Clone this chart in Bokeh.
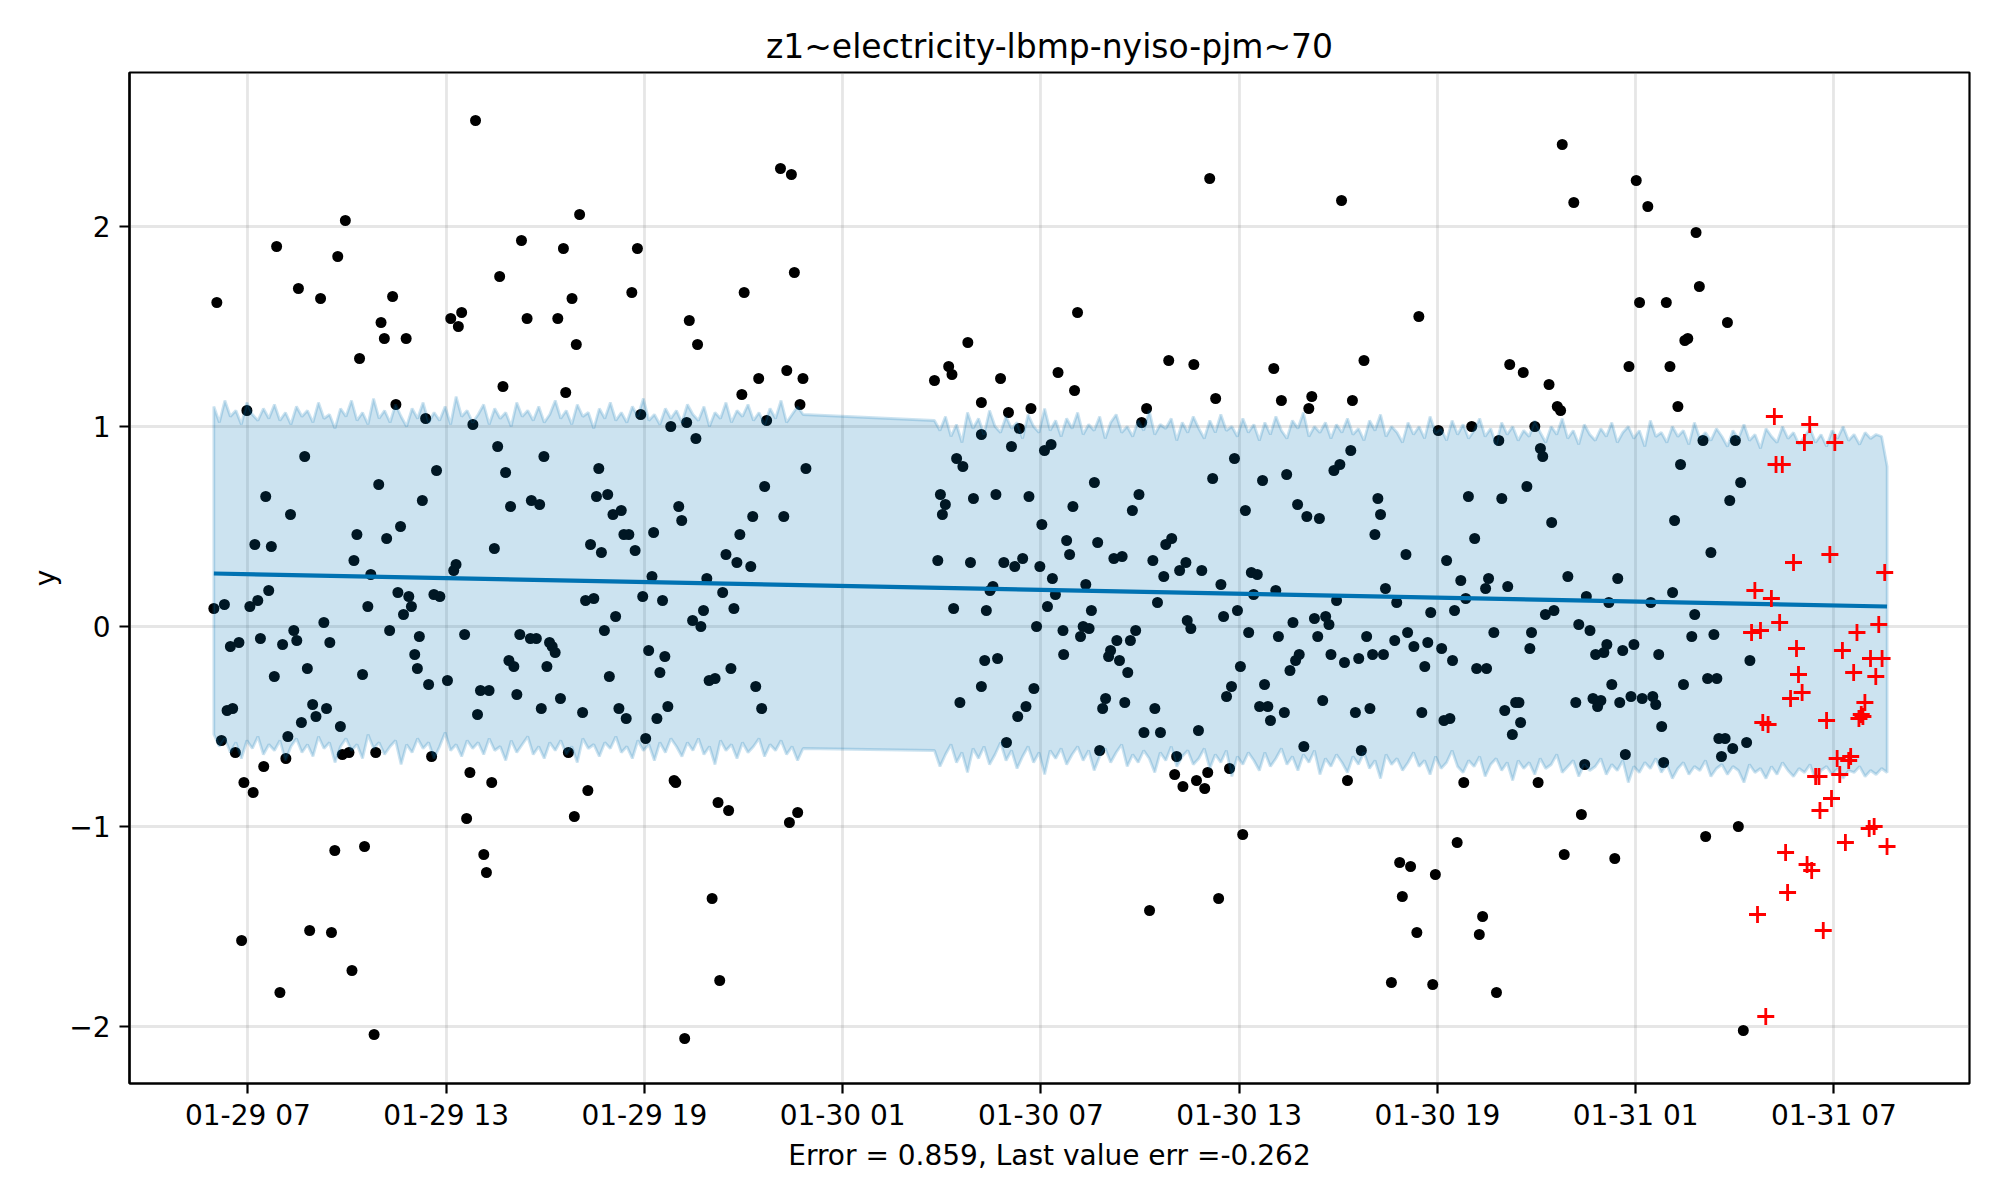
import numpy as np
from bokeh.plotting import figure
from bokeh.models import FixedTicker
from bokeh.embed import file_html
from bokeh.resources import INLINE

# x values are hours since 01-29 00:00

# observed values above the band
obs_high = [
    (6.06, 1.62), (13.89, 2.53), (9.95, 2.03), (7.87, 1.90), (9.72, 1.85), (8.53, 1.69), (9.20, 1.64), (10.38, 1.34),
    (11.03, 1.52), (11.13, 1.44), (11.38, 1.65), (11.79, 1.44), (13.14, 1.54), (13.47, 1.57), (13.37, 1.50), (14.62, 1.75),
    (15.28, 1.93), (15.45, 1.54), (16.38, 1.54), (16.55, 1.89), (16.81, 1.64), (17.04, 2.06), (16.94, 1.41), (18.62, 1.67),
    (18.79, 1.89), (20.36, 1.53), (20.61, 1.41), (22.02, 1.67), (23.12, 2.29), (23.45, 2.26), (23.54, 1.77), (28.79, 1.42),
    (36.11, 2.24), (40.10, 2.13), (46.78, 2.41), (47.13, 2.12), (49.02, 2.23), (49.37, 2.10), (50.83, 1.97), (50.93, 1.70),
    (49.12, 1.62), (49.93, 1.62), (51.78, 1.52), (50.58, 1.44), (50.49, 1.43), (32.11, 1.57), (42.44, 1.55), (34.87, 1.33),
    (40.78, 1.33),
]

# observed values below the band
obs_low = [
    (6.81, -1.57), (7.97, -1.83), (8.87, -1.52), (9.53, -1.53), (9.63, -1.12), (10.15, -1.72), (10.53, -1.10), (10.82, -2.04),
    (7.16, -0.83), (13.62, -0.96), (14.14, -1.14), (14.22, -1.23), (16.88, -0.95), (17.29, -0.82), (20.22, -2.06), (21.05, -1.36),
    (21.28, -1.77), (21.23, -0.88), (21.55, -0.92), (23.39, -0.98), (23.64, -0.93), (34.29, -1.42), (36.38, -1.36), (37.11, -1.04),
    (41.61, -1.78), (41.86, -1.18), (42.19, -1.20), (41.94, -1.35), (42.38, -1.53), (42.86, -1.79), (42.94, -1.24), (43.60, -1.08),
    (44.37, -1.45), (44.27, -1.54), (44.79, -1.83), (46.84, -1.14), (47.36, -0.94), (48.37, -1.16), (51.12, -1.05), (52.11, -1.00),
    (52.26, -2.02),
]

# observed values inside the band, 01-29
obs_day1 = [
    (6.97, 1.08), (8.72, 0.85), (7.54, 0.65), (8.29, 0.56), (7.21, 0.41), (7.71, 0.40), (5.97, 0.09), (6.29, 0.11), (7.06, 0.10), (7.30, 0.13),
    (7.63, 0.18), (6.47, -0.10), (6.73, -0.08), (7.38, -0.06), (8.05, -0.09), (8.39, -0.02), (8.48, -0.07), (7.80, -0.25), (8.80, -0.21), (6.37, -0.42),
    (6.54, -0.41), (6.20, -0.57), (6.62, -0.63), (7.48, -0.70), (8.21, -0.55), (8.15, -0.66), (6.88, -0.78), (8.62, -0.48), (8.96, -0.39), (9.06, -0.45),
    (9.38, -0.41), (9.30, 0.02), (9.48, -0.08), (9.80, -0.50), (9.86, -0.64), (10.06, -0.63), (10.47, -0.24), (10.21, 0.33), (10.30, 0.46), (10.63, 0.10),
    (10.72, 0.26), (10.96, 0.71), (11.20, 0.44), (11.29, -0.02), (10.87, -0.63), (11.48, 1.11), (11.62, 0.50), (11.54, 0.17), (11.87, 0.15), (11.95, 0.10),
    (11.71, 0.06), (12.19, -0.05), (12.05, -0.14), (12.13, -0.21), (12.47, -0.29), (12.38, 1.04), (12.28, 0.63), (12.71, 0.78), (12.63, 0.16), (12.81, 0.15),
    (12.56, -0.65), (13.04, -0.27), (13.23, 0.28), (13.30, 0.31), (13.56, -0.04), (13.81, 1.01), (13.72, -0.73), (14.04, -0.32), (14.30, -0.32), (13.95, -0.44),
    (14.38, -0.78), (14.72, 1.20), (14.56, 0.90), (14.80, 0.77), (14.95, 0.60), (14.46, 0.39), (15.23, -0.04), (14.90, -0.17), (15.05, -0.20), (15.14, -0.34),
    (15.58, 0.63), (15.83, 0.61), (15.96, 0.85), (15.55, -0.06), (15.73, -0.06), (16.13, -0.08), (16.21, -0.10), (16.30, -0.13), (16.05, -0.20), (15.88, -0.41),
    (16.46, -0.36), (16.62, 1.17), (16.70, -0.63), (17.13, -0.43), (17.37, 0.41), (17.70, 0.37), (17.55, 0.65), (17.89, 0.66), (17.62, 0.79), (18.05, 0.56),
    (18.30, 0.58), (18.38, 0.46), (18.53, 0.46), (17.22, 0.13), (17.47, 0.14), (18.13, 0.05), (17.79, -0.02), (17.94, -0.25), (18.23, -0.41), (18.45, -0.46),
    (18.89, 1.06), (19.80, 1.00), (20.28, 1.02), (20.56, 0.94), (21.95, 1.16), (22.46, 1.24), (23.31, 1.28), (23.80, 1.24), (23.71, 1.11), (22.70, 1.03),
    (23.89, 0.79), (22.64, 0.70), (20.04, 0.60), (20.13, 0.53), (22.28, 0.55), (23.22, 0.55), (18.72, 0.38), (19.28, 0.47), (21.89, 0.46), (21.47, 0.36),
    (21.80, 0.32), (22.22, 0.30), (19.23, 0.25), (20.89, 0.24), (18.95, 0.15), (19.55, 0.13), (21.37, 0.17), (21.71, 0.09), (20.79, 0.08), (20.46, 0.03),
    (20.71, 0.00), (19.13, -0.12), (19.62, -0.15), (19.47, -0.23), (20.96, -0.27), (21.14, -0.26), (21.62, -0.21), (22.37, -0.30), (22.55, -0.41), (19.38, -0.46),
    (19.71, -0.40), (19.04, -0.56), (19.90, -0.77), (19.95, -0.78),
]

# observed values inside the band, 01-30
obs_day2 = [
    (27.78, 1.23), (28.21, 1.30), (28.31, 1.26), (29.78, 1.24), (31.52, 1.27), (29.20, 1.12), (30.02, 1.07), (30.70, 1.09), (30.35, 0.99), (29.20, 0.96),
    (30.11, 0.90), (31.11, 0.88), (31.31, 0.91), (28.45, 0.84), (28.64, 0.80), (27.96, 0.66), (28.11, 0.61), (28.02, 0.56), (28.96, 0.64), (29.64, 0.66),
    (30.64, 0.65), (31.03, 0.51), (27.88, 0.33), (28.87, 0.32), (29.88, 0.32), (30.21, 0.30), (30.45, 0.34), (30.97, 0.30), (31.35, 0.24), (29.55, 0.20),
    (29.46, 0.18), (28.36, 0.09), (29.35, 0.08), (31.44, 0.16), (31.20, 0.10), (30.87, 0.00), (29.30, -0.17), (29.69, -0.16), (29.20, -0.30), (28.55, -0.38),
    (30.79, -0.31), (30.55, -0.40), (30.30, -0.45), (29.96, -0.58),
    (32.02, 1.18), (35.63, 1.31), (38.05, 1.29), (34.20, 1.09), (34.05, 1.02), (36.29, 1.14), (38.28, 1.13), (39.20, 1.15), (39.11, 1.09), (40.43, 1.13),
    (43.03, 0.98), (44.04, 1.00), (40.38, 0.88), (40.05, 0.81), (39.87, 0.78), (36.86, 0.84), (36.20, 0.74), (37.71, 0.73), (38.44, 0.76), (32.62, 0.72),
    (33.97, 0.66), (33.77, 0.58), (31.97, 0.60), (37.19, 0.58), (38.77, 0.61), (39.05, 0.55), (39.43, 0.54), (41.20, 0.64), (41.28, 0.56), (41.11, 0.46),
    (43.94, 0.65), (44.13, 0.44), (31.78, 0.43), (31.87, 0.36), (32.72, 0.42), (33.21, 0.34), (33.46, 0.35), (34.39, 0.33), (34.78, 0.41), (34.96, 0.44),
    (34.72, 0.25), (35.20, 0.28), (35.39, 0.32), (35.87, 0.28), (36.45, 0.21), (37.37, 0.27), (37.55, 0.26), (37.44, 0.16), (38.11, 0.18), (42.05, 0.36),
    (43.28, 0.33), (43.71, 0.23), (44.55, 0.24), (44.46, 0.19), (41.43, 0.19), (41.77, 0.12), (39.95, 0.13), (43.86, 0.14), (32.36, 0.21), (32.53, 0.08),
    (31.67, -0.02), (31.69, -0.14), (32.28, 0.00), (32.46, -0.01), (32.20, -0.05), (33.30, -0.07), (33.71, -0.07), (33.87, -0.02), (33.11, -0.12), (33.05, -0.15),
    (33.38, -0.17), (33.63, -0.23), (35.43, 0.03), (35.54, -0.01), (34.53, 0.12), (36.53, 0.05), (36.95, 0.08), (37.29, -0.03), (38.19, -0.05), (38.63, 0.02),
    (39.28, 0.04), (39.62, 0.05), (39.72, 0.01), (39.38, -0.05), (39.78, -0.14), (40.19, -0.18), (40.62, -0.16), (40.86, -0.05), (41.04, -0.14), (41.37, -0.14),
    (41.71, -0.07), (42.10, -0.03), (42.29, -0.10), (42.71, -0.08), (42.62, -0.20), (42.80, 0.07), (43.13, -0.11), (43.46, -0.17), (43.52, 0.08), (44.19, -0.21),
    (44.49, -0.21), (38.82, -0.14), (38.71, -0.17), (38.54, -0.22), (37.04, -0.20), (36.77, -0.30), (36.62, -0.35), (37.77, -0.29), (37.62, -0.40), (37.87, -0.40),
    (37.95, -0.47), (38.37, -0.43), (39.53, -0.37), (40.52, -0.43), (40.96, -0.41), (42.53, -0.43), (43.20, -0.47), (43.38, -0.46), (32.96, -0.36), (32.87, -0.41),
    (33.54, -0.38), (34.45, -0.41), (34.12, -0.53), (34.62, -0.53), (35.77, -0.52), (32.78, -0.62), (35.11, -0.65), (35.05, -0.74), (35.30, -0.80), (35.71, -0.77),
    (35.96, -0.81), (36.05, -0.73), (36.71, -0.71), (38.96, -0.60), (40.70, -0.62), (40.28, -0.77), (43.80, -0.78),
]

# observed values inside the band, 01-31
obs_day3 = [
    (45.19, 1.31), (45.60, 1.27), (48.80, 1.30), (50.04, 1.30), (46.38, 1.21), (46.63, 1.10), (46.73, 1.08), (50.28, 1.10), (45.95, 1.00), (44.86, 0.93),
    (46.12, 0.89), (46.19, 0.85), (51.04, 0.93), (52.02, 0.93), (50.36, 0.81), (52.18, 0.72), (51.85, 0.63), (45.71, 0.70), (44.95, 0.64), (46.46, 0.52),
    (50.18, 0.53), (51.28, 0.37), (46.95, 0.25), (45.13, 0.20), (48.46, 0.24), (50.12, 0.17), (47.51, 0.15), (48.19, 0.12), (49.46, 0.12), (46.27, 0.06),
    (46.53, 0.08), (50.79, 0.06), (44.71, -0.03), (45.85, -0.03), (45.80, -0.11), (47.28, 0.01), (47.62, -0.02), (48.13, -0.09), (48.04, -0.13), (47.79, -0.14),
    (48.61, -0.12), (48.95, -0.09), (49.70, -0.14), (50.70, -0.05), (51.37, -0.04), (52.46, -0.17), (50.45, -0.29), (51.18, -0.26), (51.46, -0.26), (48.28, -0.29),
    (45.37, -0.38), (45.47, -0.38), (45.04, -0.42), (45.52, -0.48), (45.27, -0.54), (47.19, -0.38), (47.71, -0.36), (47.95, -0.37), (47.85, -0.40), (48.52, -0.38),
    (48.86, -0.35), (49.20, -0.36), (49.52, -0.35), (49.61, -0.39), (49.79, -0.50), (48.69, -0.64), (47.46, -0.69), (49.85, -0.68), (46.05, -0.78), (51.52, -0.56),
    (51.71, -0.56), (51.94, -0.61), (51.60, -0.65), (52.36, -0.58),
]

# held-out values (red crosses)
future = [
    (53.20, 1.05), (54.27, 1.01), (54.11, 0.92), (55.03, 0.92), (53.25, 0.81), (53.44, 0.81), (54.88, 0.36), (53.78, 0.32), (56.54, 0.27), (52.61, 0.18),
    (53.11, 0.14), (53.36, 0.02), (52.51, -0.03), (52.78, -0.02), (56.36, 0.01), (55.70, -0.03), (53.87, -0.11), (55.26, -0.12), (56.11, -0.16), (56.46, -0.16),
    (53.93, -0.24), (55.60, -0.23), (56.27, -0.25), (54.04, -0.33), (53.69, -0.36), (55.94, -0.38), (52.85, -0.48), (53.01, -0.49), (54.78, -0.47), (55.83, -0.44),
    (55.76, -0.46), (55.88, -0.45), (55.10, -0.66), (55.51, -0.65), (55.45, -0.67), (54.45, -0.75), (54.55, -0.75), (55.18, -0.74), (54.93, -0.86), (54.58, -0.92),
    (55.35, -1.08), (53.54, -1.13), (54.19, -1.19), (54.33, -1.22), (53.60, -1.33), (52.69, -1.44), (54.68, -1.52), (52.94, -1.95), (56.07, -1.01), (56.22, -1.00),
    (56.61, -1.10),
]

# trend line end points
trend_hours = [5.97, 56.61]
trend_values = [0.265, 0.10]

# uncertainty band, sampled every 10 minutes in two stretches
band_start_1 = 5.97
band_upper_1 = [
    1.10, 1.02, 1.13, 1.05, 1.08, 1.01, 1.12, 1.06, 1.03, 1.09, 1.04, 1.11,
    1.03, 1.07, 1.01, 1.10, 1.05, 1.08, 1.02, 1.12, 1.04, 1.06, 0.99, 1.09,
    1.05, 1.13, 1.03, 1.07, 1.01, 1.14, 1.04, 1.08, 1.02, 1.11, 1.05, 1.00,
    1.09, 1.04, 1.12, 1.02, 1.07, 1.03, 1.10, 1.01, 1.15, 1.05, 1.08, 1.02,
    1.06, 1.11, 1.01, 1.09, 1.04, 1.07, 1.00, 1.12, 1.05, 1.08, 1.03, 1.10,
    1.02, 1.06, 1.13, 1.04, 1.08, 1.01, 1.11, 1.05, 1.07, 0.99, 1.09, 1.04,
    1.12, 1.03, 1.07, 1.02, 1.10, 1.05, 1.14, 1.03, 1.06, 1.01, 1.09, 1.04,
    1.08, 1.02, 1.11, 1.06, 1.03, 1.10, 1.00, 1.07, 1.04, 1.12, 1.02, 1.08,
    1.05, 1.11, 1.03, 1.07, 1.01, 1.09, 1.04, 1.13, 1.02, 1.06, 1.10, 1.06,
]
band_lower_1 = [
    -0.54, -0.60, -0.56, -0.63, -0.58, -0.66, -0.57, -0.61, -0.55, -0.64, -0.59, -0.62,
    -0.57, -0.67, -0.60, -0.56, -0.63, -0.59, -0.65, -0.55, -0.61, -0.58, -0.68, -0.60,
    -0.56, -0.62, -0.59, -0.66, -0.54, -0.61, -0.58, -0.64, -0.60, -0.57, -0.69, -0.59,
    -0.63, -0.56, -0.61, -0.58, -0.66, -0.60, -0.53, -0.62, -0.59, -0.65, -0.57, -0.61,
    -0.58, -0.64, -0.56, -0.62, -0.60, -0.67, -0.57, -0.63, -0.59, -0.55, -0.64, -0.60,
    -0.66, -0.58, -0.62, -0.57, -0.64, -0.60, -0.68, -0.56, -0.61, -0.59, -0.65, -0.58,
    -0.61, -0.55, -0.63, -0.60, -0.66, -0.57, -0.62, -0.59, -0.67, -0.58, -0.63, -0.56,
    -0.60, -0.65, -0.58, -0.62, -0.56, -0.64, -0.60, -0.69, -0.57, -0.62, -0.59, -0.66,
    -0.58, -0.63, -0.60, -0.56, -0.65, -0.59, -0.62, -0.57, -0.64, -0.60, -0.67, -0.61,
]
band_start_2 = 27.78
band_upper_2 = [
    1.03, 0.98, 1.05, 0.95, 1.01, 0.92, 1.07, 0.99, 1.04, 0.96, 1.08, 1.00,
    0.97, 1.05, 0.99, 1.02, 0.94, 1.06, 1.00, 0.97, 1.09, 0.98, 1.03, 0.95,
    1.04, 0.99, 1.07, 0.96, 1.01, 0.98, 1.05, 0.94, 1.02, 1.06, 0.97, 1.00,
    0.95, 1.03, 0.98, 1.08, 0.96, 1.01, 0.99, 1.04, 0.93, 1.02, 0.97, 1.05,
    0.99, 0.94, 1.03, 0.97, 1.06, 0.98, 1.00, 0.95, 1.04, 0.97, 1.01, 0.93,
    1.02, 0.96, 1.05, 0.98, 0.94, 1.03, 0.99, 1.07, 0.95, 1.00, 0.97, 1.02,
    0.94, 1.01, 0.97, 1.04, 0.96, 0.99, 0.93, 1.03, 0.98, 1.06, 0.95, 1.00,
    0.97, 0.92, 1.02, 0.96, 1.00, 0.94, 1.05, 0.97, 0.99, 0.93, 1.03, 0.96,
    1.01, 0.94, 0.98, 1.04, 0.95, 0.99, 0.91, 1.02, 0.96, 1.00, 0.93, 0.98,
    0.95, 1.03, 0.97, 0.92, 1.00, 0.96, 1.04, 0.94, 0.98, 0.91, 1.01, 0.96,
    0.93, 0.99, 0.95, 1.02, 0.92, 0.97, 1.00, 0.94, 0.98, 0.90, 1.03, 0.95,
    0.97, 0.92, 1.00, 0.95, 0.98, 0.91, 1.02, 0.94, 0.97, 0.93, 0.99, 0.95,
    0.90, 0.98, 0.94, 1.01, 0.93, 0.96, 0.89, 0.99, 0.95, 0.92, 1.00, 0.94,
    0.97, 0.91, 0.95, 0.99, 0.92, 0.96, 0.90, 0.98, 0.94, 1.00, 0.93, 0.96,
    0.91, 0.97, 0.94, 0.96, 0.95, 0.80,
]
band_lower_2 = [
    -0.62, -0.70, -0.64, -0.59, -0.68, -0.63, -0.73, -0.61, -0.66, -0.60, -0.69, -0.64,
    -0.58, -0.67, -0.62, -0.71, -0.65, -0.60, -0.68, -0.63, -0.74, -0.62, -0.66, -0.61,
    -0.69, -0.64, -0.60, -0.67, -0.62, -0.72, -0.65, -0.61, -0.68, -0.63, -0.59, -0.70,
    -0.64, -0.68, -0.62, -0.66, -0.73, -0.63, -0.67, -0.60, -0.70, -0.65, -0.62, -0.69,
    -0.66, -0.61, -0.71, -0.64, -0.68, -0.62, -0.75, -0.65, -0.69, -0.63, -0.67, -0.72,
    -0.63, -0.70, -0.66, -0.61, -0.69, -0.65, -0.72, -0.64, -0.68, -0.62, -0.74, -0.66,
    -0.70, -0.64, -0.68, -0.73, -0.65, -0.69, -0.63, -0.71, -0.67, -0.76, -0.64, -0.69,
    -0.66, -0.72, -0.68, -0.63, -0.70, -0.67, -0.74, -0.65, -0.71, -0.68, -0.62, -0.70,
    -0.73, -0.67, -0.70, -0.65, -0.75, -0.69, -0.66, -0.72, -0.68, -0.77, -0.67, -0.71,
    -0.68, -0.74, -0.66, -0.71, -0.69, -0.64, -0.73, -0.70, -0.67, -0.75, -0.69, -0.72,
    -0.70, -0.66, -0.74, -0.69, -0.72, -0.67, -0.78, -0.70, -0.73, -0.68, -0.71, -0.66,
    -0.73, -0.69, -0.76, -0.71, -0.68, -0.74, -0.70, -0.72, -0.67, -0.75, -0.71, -0.69,
    -0.74, -0.70, -0.72, -0.78, -0.69, -0.73, -0.71, -0.76, -0.70, -0.74, -0.68, -0.72,
    -0.75, -0.71, -0.73, -0.69, -0.77, -0.72, -0.70, -0.74, -0.71, -0.76, -0.72, -0.73,
    -0.70, -0.75, -0.72, -0.74, -0.71, -0.73,
]

tick_hours = [7, 13, 19, 25, 31, 37, 43, 49, 55]
tick_labels = ["01-29 07", "01-29 13", "01-29 19", "01-30 01", "01-30 07",
               "01-30 13", "01-30 19", "01-31 01", "01-31 07"]
y_ticks = [-2, -1, 0, 1, 2]
y_labels = ["\u22122", "\u22121", "0", "1", "2"]

observed = obs_high + obs_low + obs_day1 + obs_day2 + obs_day3
obs_h = [h for h, v in observed]
obs_v = [v for h, v in observed]
fut_h = [h for h, v in future]
fut_v = [v for h, v in future]

step = 1 / 6  # 10 minutes
band_h = list(band_start_1 + np.arange(len(band_upper_1)) * step) + \
    list(band_start_2 + np.arange(len(band_upper_2)) * step)
band_up = band_upper_1 + band_upper_2
band_lo = band_lower_1 + band_lower_2

FONT = "DejaVu Sans"
BLUE = "#0072B2"

p = figure(frame_width=1840, frame_height=1011,
           x_range=(3.417, 59.106), y_range=(-2.285, 2.77),
           title="z1~electricity-lbmp-nyiso-pjm~70",
           output_backend="svg", toolbar_location=None,
           min_border_left=129, min_border_right=15,
           min_border_top=72, min_border_bottom=100)

# points, forecast line, band, then held-out values (same order as the original)
p.scatter(obs_h, obs_v, size=11, color="black", line_color=None)
p.line(trend_hours, trend_values, line_color=BLUE, line_width=4.2)
p.patch(band_h + band_h[::-1], band_up + band_lo[::-1],
        fill_color=BLUE, fill_alpha=0.2, line_color=BLUE, line_alpha=0.2, line_width=2.8)
p.scatter(fut_h, fut_v, marker="cross", size=17, line_color="red", line_width=2.8)

p.xaxis.ticker = FixedTicker(ticks=tick_hours)
p.xaxis.major_label_overrides = dict(zip(tick_hours, tick_labels))
p.yaxis.ticker = FixedTicker(ticks=y_ticks)
p.yaxis.major_label_overrides = dict(zip(y_ticks, y_labels))
p.xaxis.axis_label = "Error = 0.859, Last value err =-0.262"
p.yaxis.axis_label = "y"

for ax in (p.xaxis[0], p.yaxis[0]):
    ax.major_label_text_font = FONT
    ax.major_label_text_font_size = "28px"
    ax.major_label_text_color = "black"
    ax.axis_label_text_font = FONT
    ax.axis_label_text_font_size = "28px"
    ax.axis_label_text_font_style = "normal"
    ax.axis_label_text_color = "black"
    ax.axis_line_color = "black"
    ax.axis_line_width = 2.2
    ax.major_tick_line_color = "black"
    ax.major_tick_line_width = 2.2
    ax.major_tick_out = 10
    ax.major_tick_in = 0
    ax.minor_tick_line_color = None
    ax.axis_label_standoff = 4

p.xaxis.major_label_standoff = 5
p.yaxis.major_label_standoff = 9

p.grid.grid_line_color = "gray"
p.grid.grid_line_alpha = 0.2
p.grid.grid_line_width = 2.8

p.outline_line_color = "black"
p.outline_line_width = 2.2
p.outline_line_alpha = 1.0

p.title.text_font = FONT
p.title.text_font_size = "33px"
p.title.text_font_style = "normal"
p.title.text_color = "black"
p.title.align = "center"
p.title.standoff = 14

open("out.html", "w").write(file_html(p, INLINE))
